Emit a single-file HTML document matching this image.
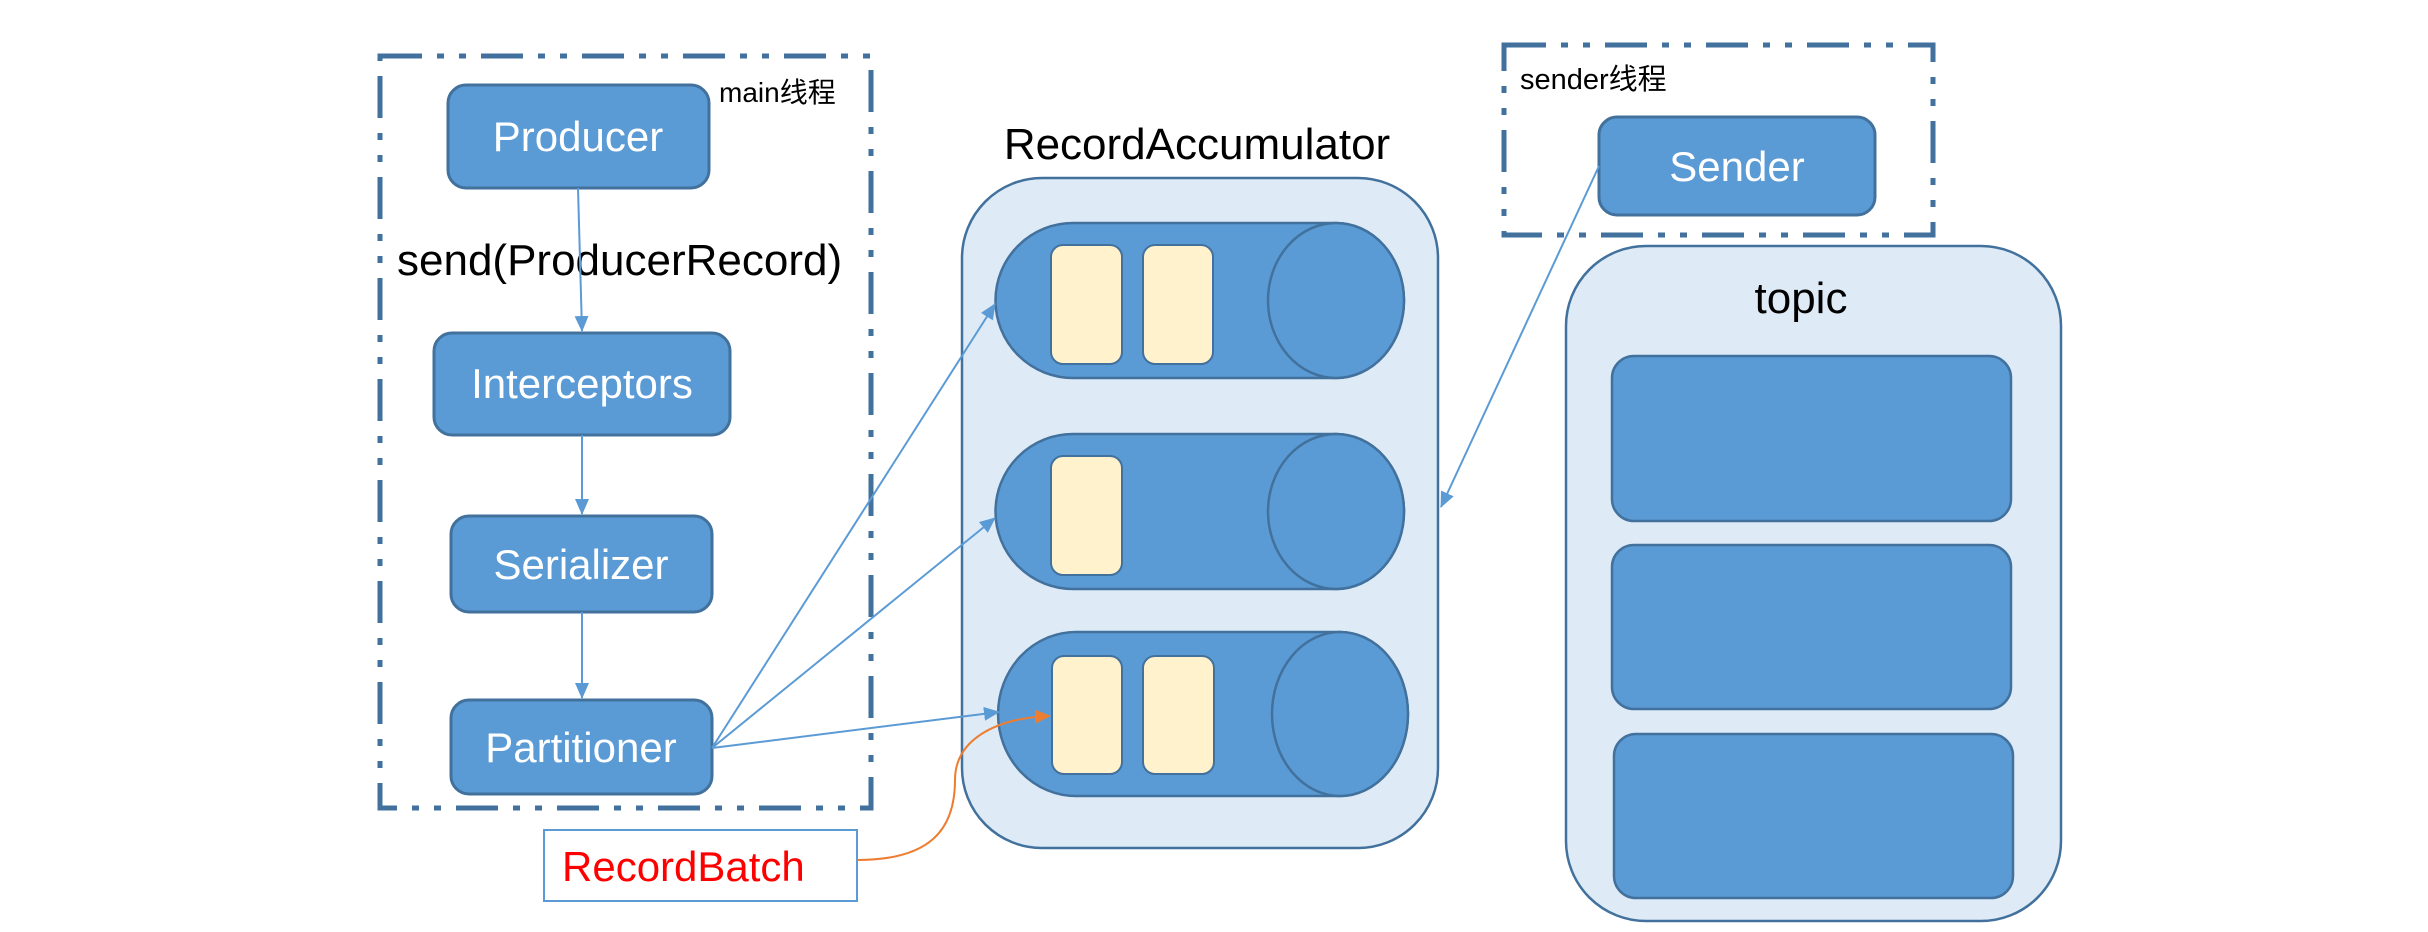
<!DOCTYPE html>
<html><head><meta charset="utf-8"><style>html,body{margin:0;padding:0;background:#fff}svg{display:block}</style></head>
<body>
<svg width="2428" height="932" viewBox="0 0 2428 932" xmlns="http://www.w3.org/2000/svg" font-family="'Liberation Sans','Noto Sans CJK SC',sans-serif">
<defs>
<marker id="abl" markerWidth="16" markerHeight="14" refX="15" refY="7" orient="auto" markerUnits="userSpaceOnUse"><path d="M0,0 L16,7 L0,14 z" fill="#5b9bd5"/></marker>
<marker id="ao" markerWidth="16" markerHeight="14" refX="15" refY="7" orient="auto" markerUnits="userSpaceOnUse"><path d="M0,0 L16,7 L0,14 z" fill="#ed7d31"/></marker>
</defs>

<!-- main thread box -->
<rect x="380" y="56" width="491" height="752" fill="none" stroke="#41719c" stroke-width="5" stroke-dasharray="42 15 7 15 7 15"/>
<text x="719" y="102" font-size="28" fill="#000">main线程</text>

<!-- main nodes -->
<g fill="#5b9bd5" stroke="#41719c" stroke-width="3">
<rect x="448" y="85" width="261" height="103" rx="18"/>
<rect x="434" y="333" width="296" height="102" rx="18"/>
<rect x="451" y="516" width="261" height="96" rx="18"/>
<rect x="451" y="700" width="261" height="94" rx="18"/>
</g>
<g fill="#fff" font-size="42" text-anchor="middle">
<text x="578" y="151">Producer</text>
<text x="582" y="398">Interceptors</text>
<text x="581" y="579">Serializer</text>
<text x="581" y="762">Partitioner</text>
</g>
<text x="397" y="275" font-size="44" fill="#000">send(ProducerRecord)</text>

<g stroke="#5b9bd5" stroke-width="2" fill="none">
<line x1="578" y1="188" x2="582" y2="331" marker-end="url(#abl)"/>
<line x1="582" y1="435" x2="582" y2="514" marker-end="url(#abl)"/>
<line x1="582" y1="612" x2="582" y2="698" marker-end="url(#abl)"/>
</g>

<!-- RecordAccumulator -->
<text x="1197" y="159" font-size="44" text-anchor="middle" fill="#000">RecordAccumulator</text>
<rect x="962" y="178" width="476" height="670" rx="80" fill="#deebf7" stroke="#41719c" stroke-width="2.5"/>

<g fill="#5b9bd5" stroke="#41719c" stroke-width="2.5">
<path d="M1073,223 H1336 A68,77.5 0 0 1 1336,378 H1073 A77.5,77.5 0 0 1 1073,223 Z"/>
<ellipse cx="1336" cy="300.5" rx="68" ry="77.5"/>
<path d="M1073,434 H1336 A68,77.5 0 0 1 1336,589 H1073 A77.5,77.5 0 0 1 1073,434 Z"/>
<ellipse cx="1336" cy="511.5" rx="68" ry="77.5"/>
<path d="M1076,632 H1340 A68,82 0 0 1 1340,796 H1076 A78,82 0 0 1 1076,632 Z"/>
<ellipse cx="1340" cy="714" rx="68" ry="82"/>
</g>
<g fill="#fff2cc" stroke="#41719c" stroke-width="2">
<rect x="1051" y="245" width="71" height="119" rx="12"/>
<rect x="1143" y="245" width="70" height="119" rx="12"/>
<rect x="1051" y="456" width="71" height="119" rx="12"/>
<rect x="1052" y="656" width="70" height="118" rx="12"/>
<rect x="1143" y="656" width="71" height="118" rx="12"/>
</g>

<g stroke="#5b9bd5" stroke-width="2" fill="none">
<line x1="712" y1="748" x2="995" y2="304" marker-end="url(#abl)"/>
<line x1="712" y1="748" x2="995" y2="518" marker-end="url(#abl)"/>
<line x1="712" y1="748" x2="999" y2="712" marker-end="url(#abl)"/>
</g>

<!-- RecordBatch -->
<rect x="544" y="830" width="313" height="71" fill="#fff" stroke="#5b9bd5" stroke-width="2"/>
<text x="562" y="881" font-size="42" fill="#ff0000">RecordBatch</text>
<path d="M857,860 C930,860 955,830 955,780 C955,740 995,718 1050,716" fill="none" stroke="#ed7d31" stroke-width="2" marker-end="url(#ao)"/>

<!-- sender thread -->
<rect x="1504" y="45" width="429" height="190" fill="none" stroke="#41719c" stroke-width="5" stroke-dasharray="42 15 7 15 7 15"/>
<text x="1520" y="89" font-size="29" fill="#000">sender线程</text>
<rect x="1599" y="117" width="276" height="98" rx="18" fill="#5b9bd5" stroke="#41719c" stroke-width="3"/>
<text x="1737" y="181" font-size="42" fill="#fff" text-anchor="middle">Sender</text>
<line x1="1599" y1="166" x2="1441" y2="507" stroke="#5b9bd5" stroke-width="2" marker-end="url(#abl)"/>

<!-- topic -->
<rect x="1566" y="246" width="495" height="675" rx="80" fill="#deebf7" stroke="#41719c" stroke-width="2.5"/>
<text x="1801" y="313" font-size="44" text-anchor="middle" fill="#000">topic</text>
<g fill="#5b9bd5" stroke="#41719c" stroke-width="2.5">
<rect x="1612" y="356" width="399" height="165" rx="22"/>
<rect x="1612" y="545" width="399" height="164" rx="22"/>
<rect x="1614" y="734" width="399" height="164" rx="22"/>
</g>
</svg>
</body></html>
